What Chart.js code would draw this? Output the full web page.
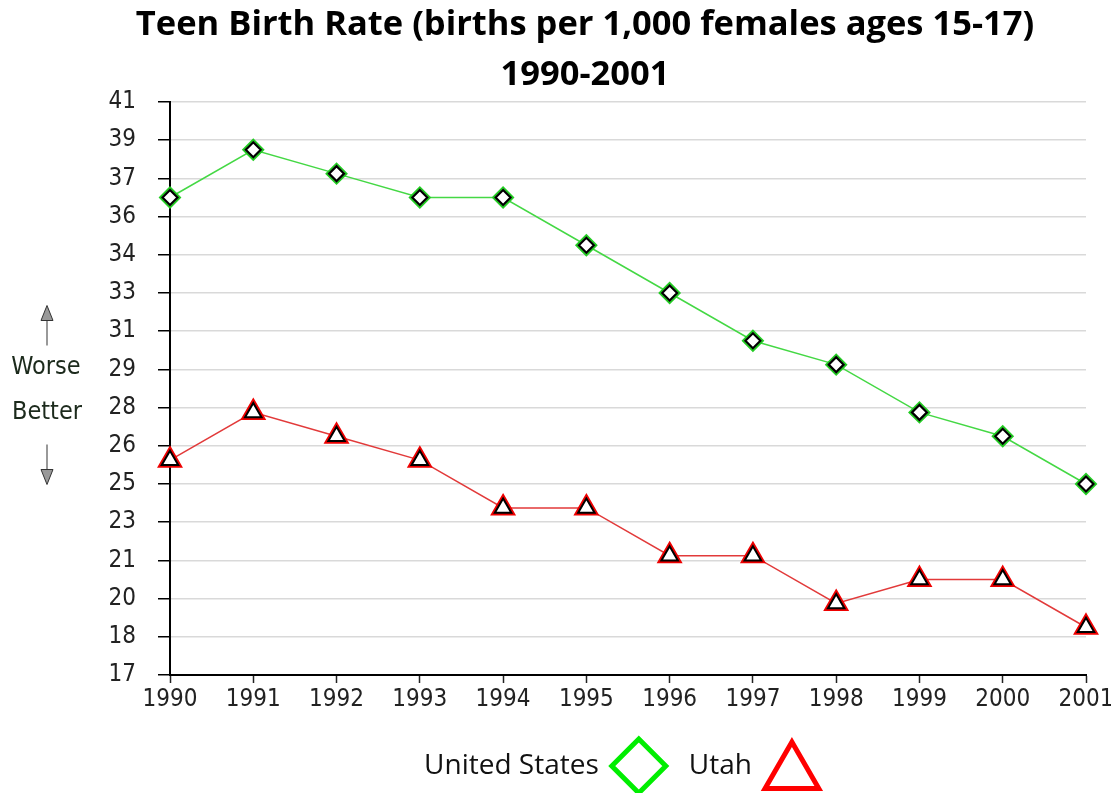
<!DOCTYPE html>
<html>
<head>
<meta charset="utf-8">
<title>Teen Birth Rate 1990-2001</title>
<script src="https://cdn.jsdelivr.net/npm/chart.js@4.4.1/dist/chart.umd.min.js"></script>
<style>
    html, body { margin: 0; padding: 0; background: #fff; }
</style>
</head>
<body>
<canvas id="birthChart" width="1111" height="793"></canvas>
<script>
// --- Data ---
const years = ['1990', '1991', '1992', '1993', '1994', '1995', '1996', '1997', '1998', '1999', '2000', '2001'];
const usRates = [37, 39, 38, 37, 37, 35, 33, 31, 30, 28, 27, 25];
const utahRates = [26, 28, 27, 26, 24, 24, 22, 22, 20, 21, 21, 19];
const seriesNames = ['United States', 'Utah'];
// the y axis runs 17..41 in 15 equal steps, labels are shown truncated
const yTickLabels = ['17', '18', '20', '21', '23', '25', '26', '28', '29', '31', '33', '34', '36', '37', '39', '41'];
const yMin = 17;
const yMax = 41;

const tickFont = { family: "'Liberation Sans Narrow', 'DejaVu Sans Condensed', 'Liberation Sans', sans-serif", size: 24 };

// --- Worse / Better note on the left, and the legend under the axis ---
const sideNotes = {
    id: 'sideNotes',
    afterDraw(chart) {
        const ctx = chart.ctx;
        const area = chart.chartArea;
        const midY = (area.top + area.bottom) / 2;
        const noteX = 46;

        ctx.save();
        ctx.fillStyle = '#1c2a1c';
        ctx.font = "25px 'DejaVu Sans Condensed', 'DejaVu Sans', sans-serif";
        ctx.textAlign = 'center';
        ctx.textBaseline = 'middle';
        ctx.fillText('Worse', noteX, midY - 21);
        ctx.fillText('Better', noteX + 1, midY + 24);

        const arrow = (yTip, dir) => {
            ctx.strokeStyle = '#777';
            ctx.lineWidth = 1.5;
            ctx.beginPath();
            ctx.moveTo(noteX + 1, yTip + dir * 12);
            ctx.lineTo(noteX + 1, yTip + dir * 40);
            ctx.stroke();
            ctx.fillStyle = '#999';
            ctx.strokeStyle = '#333';
            ctx.lineWidth = 1;
            ctx.beginPath();
            ctx.moveTo(noteX + 1, yTip);
            ctx.lineTo(noteX - 5, yTip + dir * 15);
            ctx.lineTo(noteX + 7, yTip + dir * 15);
            ctx.closePath();
            ctx.fill();
            ctx.stroke();
        };
        arrow(midY - 83, 1);
        arrow(midY + 96, -1);

        // legend: label text followed by a large outlined marker
        const items = [
            { text: seriesNames[0], style: 'rectRot', color: '#00ee00' },
            { text: seriesNames[1], style: 'triangle', color: '#ff0000' }
        ];
        ctx.font = "28px 'Open Sans', 'Noto Sans', sans-serif";
        ctx.textAlign = 'left';
        const markerW = 60, gapText = 10, gapItem = 20;
        let total = 0;
        items.forEach((it, i) => {
            it.w = ctx.measureText(it.text).width;
            total += it.w + gapText + markerW + (i ? gapItem : 0);
        });
        let x = 623 - total / 2;
        const y = 766;
        items.forEach((it, i) => {
            if (i) x += gapItem;
            ctx.fillStyle = '#111';
            ctx.fillText(it.text, x, y);
            x += it.w + gapText;
            ctx.strokeStyle = it.color;
            ctx.fillStyle = 'rgba(0,0,0,0)';
            ctx.lineWidth = 5;
            Chart.helpers.drawPoint(ctx, {
                pointStyle: it.style,
                radius: it.style === 'triangle' ? 31 : 27,
                rotation: 0,
                borderWidth: 5
            }, x + markerW / 2, it.style === 'triangle' ? y + 7 : y);
            x += markerW;
        });
        ctx.restore();
    }
};

const ctx = document.getElementById('birthChart');
new Chart(ctx, {
    type: 'line',
    data: {
        labels: years,
        datasets: [
            {
                label: seriesNames[0],
                data: usRates,
                borderColor: '#44d844',
                borderWidth: 1.5,
                pointStyle: 'rectRot',
                pointRadius: 10,
                pointBackgroundColor: '#fff',
                pointBorderColor: '#22cc22',
                pointBorderWidth: 2,
                order: 3
            },
            {
                label: seriesNames[0] + ' marker',
                data: usRates,
                showLine: false,
                pointStyle: 'rectRot',
                pointRadius: 7.5,
                pointBackgroundColor: '#fff',
                pointBorderColor: '#000',
                pointBorderWidth: 2.2,
                order: 1
            },
            {
                label: seriesNames[1],
                data: utahRates,
                borderColor: '#e23a3a',
                borderWidth: 1.5,
                pointStyle: 'triangle',
                pointRadius: 12.5,
                pointBackgroundColor: '#fff',
                pointBorderColor: '#ee0000',
                pointBorderWidth: 2.5,
                order: 4
            },
            {
                label: seriesNames[1] + ' marker',
                data: utahRates,
                showLine: false,
                pointStyle: 'triangle',
                pointRadius: 9.5,
                pointBackgroundColor: '#fff',
                pointBorderColor: '#000',
                pointBorderWidth: 2,
                order: 2
            }
        ]
    },
    options: {
        responsive: false,
        animation: false,
        layout: { padding: { left: 84, right: 25, top: 0, bottom: 80 } },
        plugins: {
            legend: { display: false },
            tooltip: { enabled: false },
            title: {
                display: true,
                text: ['Teen Birth Rate (births per 1,000 females ages 15-17)', '1990-2001'],
                color: '#000',
                font: { family: "'Open Sans', 'Noto Sans', sans-serif", size: 34.5, weight: 'bold', lineHeight: '50px' },
                padding: { top: 0, bottom: 2 }
            }
        },
        scales: {
            x: {
                offset: false,
                border: { color: '#000', width: 2 },
                grid: { drawOnChartArea: false, tickLength: 8, tickColor: '#222', tickWidth: 1.5 },
                ticks: { color: '#222', font: tickFont, padding: 2, maxRotation: 0, autoSkip: false },
                afterFit: s => { s.height = 38; s.paddingLeft = 0; s.paddingRight = 0; }
            },
            y: {
                min: yMin,
                max: yMax,
                border: { color: '#000', width: 2 },
                grid: { color: '#d9d9d9', lineWidth: 1.5, tickLength: 12, tickColor: '#000', tickWidth: 1.5 },
                ticks: {
                    stepSize: (yMax - yMin) / (yTickLabels.length - 1),
                    color: '#222',
                    font: tickFont,
                    padding: 22,
                    callback: (value, index) => yTickLabels[index]
                },
                afterFit: s => { s.width = 86; }
            }
        }
    },
    plugins: [sideNotes]
});
</script>
</body>
</html>
